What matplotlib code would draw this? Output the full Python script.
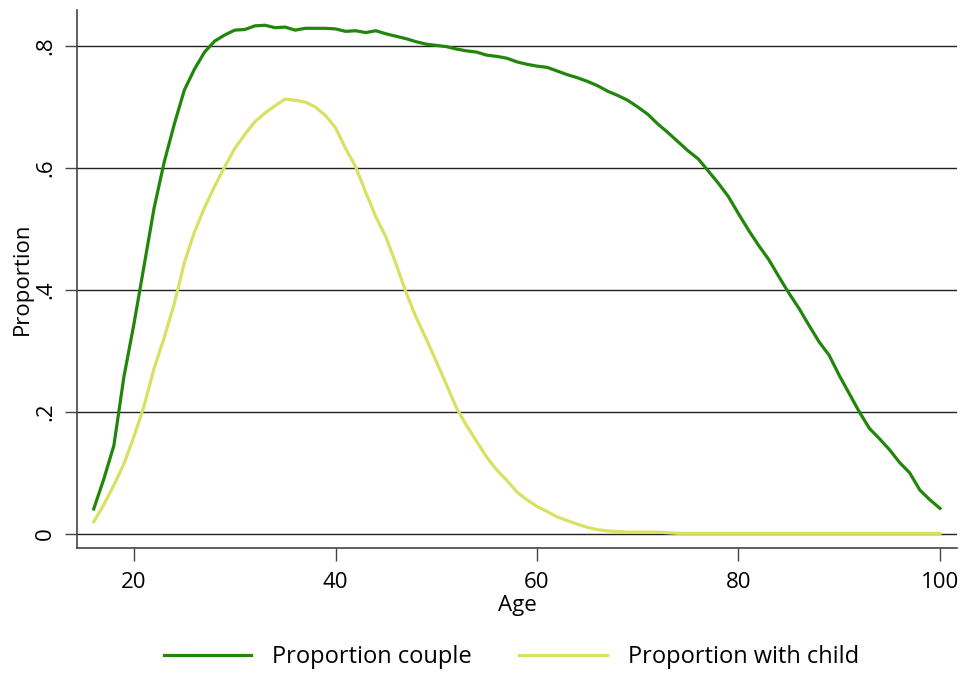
import matplotlib
matplotlib.use("Agg")
import matplotlib.pyplot as plt

plt.rcParams['font.family'] = ['Open Sans', 'DejaVu Sans']

ages = list(range(16, 101))

couple = [0.041, 0.090, 0.145, 0.258, 0.345, 0.440, 0.535, 0.610, 0.672, 0.728,
          0.762, 0.790, 0.808, 0.818, 0.826, 0.827, 0.833, 0.834, 0.830, 0.831,
          0.826, 0.829, 0.829, 0.829, 0.828, 0.824, 0.825, 0.822, 0.825, 0.820,
          0.816, 0.812, 0.807, 0.803, 0.801, 0.799, 0.795, 0.792, 0.790, 0.785,
          0.783, 0.780, 0.774, 0.770, 0.767, 0.765, 0.759, 0.753, 0.748, 0.742,
          0.735, 0.726, 0.719, 0.711, 0.700, 0.688, 0.672, 0.658, 0.643, 0.628,
          0.615, 0.595, 0.575, 0.553, 0.525, 0.498, 0.473, 0.450, 0.422, 0.395,
          0.370, 0.342, 0.315, 0.293, 0.260, 0.230, 0.200, 0.173, 0.156, 0.138,
          0.117, 0.100, 0.072, 0.056, 0.042]

with_child = [0.020, 0.048, 0.080, 0.115, 0.160, 0.210, 0.272, 0.322, 0.378, 0.445,
              0.495, 0.535, 0.570, 0.602, 0.632, 0.655, 0.676, 0.690, 0.702, 0.713,
              0.711, 0.708, 0.700, 0.686, 0.666, 0.632, 0.602, 0.560, 0.520, 0.487,
              0.443, 0.396, 0.355, 0.320, 0.283, 0.245, 0.207, 0.178, 0.152, 0.126,
              0.105, 0.088, 0.069, 0.056, 0.045, 0.037, 0.028, 0.022, 0.016, 0.011,
              0.007, 0.005, 0.004, 0.003, 0.003, 0.003, 0.003, 0.002, 0.001, 0.001,
              0.001, 0.001, 0.001, 0.001, 0.001, 0.001, 0.001, 0.001, 0.001, 0.001,
              0.001, 0.001, 0.001, 0.001, 0.001, 0.001, 0.001, 0.001, 0.001, 0.001,
              0.001, 0.001, 0.001, 0.001, 0.001]

x_ticks = [20, 40, 60, 80, 100]
y_ticks = [0, 0.2, 0.4, 0.6, 0.8]
y_tick_labels = ["0", ".2", ".4", ".6", ".8"]

fig = plt.figure(figsize=(9.67, 6.75), dpi=100)
ax = fig.add_axes([77/967, 1 - 548/675, (957 - 77)/967, (548 - 10)/675])

for y in y_ticks:
    ax.axhline(y, color="#222222", lw=1.0, zorder=1)

ax.plot(ages, couple, color="#22860a", lw=2.3, label="Proportion couple", zorder=3)
ax.plot(ages, with_child, color="#d8e162", lw=2.3, label="Proportion with child", zorder=3)

ax.set_xlim(14.34, 101.69)
ax.set_ylim(-0.023, 0.859)
ax.set_xticks(x_ticks)
ax.set_xticklabels([str(v) for v in x_ticks])
ax.set_yticks(y_ticks)
ax.set_yticklabels(y_tick_labels, rotation=90, va="center")

for s in ["top", "right"]:
    ax.spines[s].set_visible(False)
for s in ["left", "bottom"]:
    ax.spines[s].set_color("#444444")
    ax.spines[s].set_linewidth(1.2)

ax.tick_params(axis="both", labelsize=16, color="#444444", width=1.0, length=9)
ax.tick_params(axis="x", pad=8)
ax.tick_params(axis="y", pad=6)
ax.set_xlabel("Age", fontsize=16, labelpad=2)
ax.set_ylabel("Proportion", fontsize=16, labelpad=2)

fig.legend(loc="center", bbox_to_anchor=(0.529, 1 - 657/675), ncol=2, frameon=False,
           fontsize=17, handlelength=3.7, handletextpad=0.9, columnspacing=2.0)

fig.savefig("out.png", dpi=100, facecolor="white")
